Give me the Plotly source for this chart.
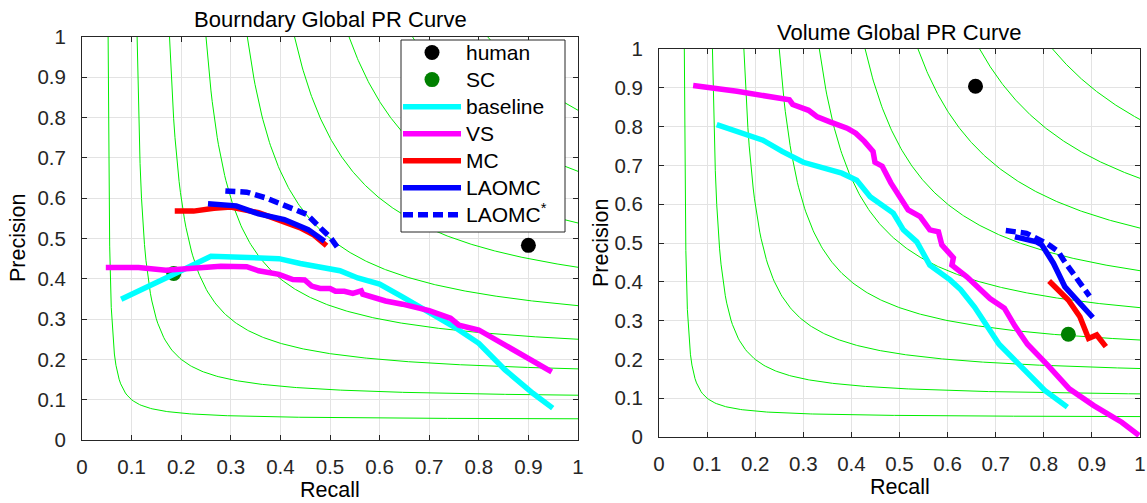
import plotly.graph_objects as go

# ---------------- data ----------------
F_LEVELS = [0.1, 0.2, 0.3, 0.4, 0.5, 0.6, 0.7, 0.8, 0.9]
SERIES_NAMES = ["human", "SC", "baseline", "VS", "MC", "LAOMC", "LAOMC<sup>*</sup>"]

# Boundary plot
b_human_r = [0.90]
b_human_p = [0.483]
b_sc_r = [0.185]
b_sc_p = [0.413]
b_base_r = [0.079, 0.135, 0.183, 0.26, 0.397, 0.44, 0.52, 0.556, 0.60, 0.646, 0.70, 0.75, 0.80, 0.853, 0.909, 0.949]
b_base_p = [0.349, 0.38, 0.41, 0.456, 0.45, 0.438, 0.42, 0.402, 0.387, 0.355, 0.318, 0.281, 0.24, 0.174, 0.116, 0.079]
b_vs_r = [0.048, 0.114, 0.169, 0.23, 0.28, 0.332, 0.356, 0.397, 0.425, 0.449, 0.463, 0.48, 0.50, 0.511, 0.529,
          0.546, 0.563, 0.566, 0.612, 0.646, 0.70, 0.743, 0.76, 0.80, 0.853, 0.895, 0.947]
b_vs_p = [0.428, 0.428, 0.421, 0.426, 0.431, 0.43, 0.42, 0.411, 0.398, 0.397, 0.382, 0.376, 0.376, 0.369, 0.369,
          0.364, 0.370, 0.362, 0.345, 0.337, 0.321, 0.302, 0.285, 0.273, 0.236, 0.207, 0.169]
b_mc_r = [0.187, 0.225, 0.266, 0.30, 0.356, 0.397, 0.439, 0.466, 0.493]
b_mc_p = [0.568, 0.568, 0.575, 0.578, 0.564, 0.547, 0.527, 0.510, 0.482]
b_la_r = [0.254, 0.311, 0.356, 0.408, 0.456, 0.489]
b_la_p = [0.586, 0.581, 0.561, 0.547, 0.522, 0.493]
b_las_r = [0.289, 0.332, 0.37, 0.425, 0.453, 0.48, 0.501, 0.518]
b_las_p = [0.618, 0.615, 0.601, 0.575, 0.56, 0.527, 0.502, 0.473]

# Volume plot
v_human_r = [0.658]
v_human_p = [0.904]
v_sc_r = [0.851]
v_sc_p = [0.265]
v_base_r = [0.12, 0.216, 0.256, 0.30, 0.38, 0.411, 0.439, 0.487, 0.508, 0.536, 0.563, 0.605, 0.627, 0.643,
            0.656, 0.707, 0.744, 0.802, 0.849]
v_base_p = [0.805, 0.765, 0.736, 0.708, 0.680, 0.662, 0.619, 0.577, 0.534, 0.503, 0.443, 0.405, 0.380, 0.357,
            0.335, 0.239, 0.192, 0.120, 0.077]
v_vs_r = [0.071, 0.162, 0.271, 0.278, 0.311, 0.329, 0.358, 0.391, 0.409, 0.427, 0.445, 0.449, 0.464, 0.482,
          0.518, 0.543, 0.563, 0.581, 0.588, 0.605, 0.612, 0.609, 0.640, 0.688, 0.718, 0.74, 0.766, 0.809,
          0.853, 0.904, 0.962, 0.998]
v_vs_p = [0.906, 0.891, 0.869, 0.857, 0.842, 0.825, 0.811, 0.796, 0.783, 0.762, 0.736, 0.708, 0.698, 0.655,
          0.585, 0.568, 0.534, 0.529, 0.495, 0.469, 0.462, 0.443, 0.413, 0.357, 0.332, 0.286, 0.239, 0.184,
          0.124, 0.081, 0.038, 0.004]
v_mc_r = [0.811, 0.851, 0.875, 0.893, 0.910, 0.929]
v_mc_p = [0.402, 0.353, 0.310, 0.254, 0.263, 0.233]
v_la_r = [0.740, 0.785, 0.796, 0.820, 0.844, 0.865, 0.902]
v_la_p = [0.516, 0.503, 0.495, 0.448, 0.387, 0.357, 0.308]
v_las_r = [0.721, 0.764, 0.806, 0.830, 0.841, 0.872, 0.895]
v_las_p = [0.532, 0.525, 0.499, 0.478, 0.456, 0.405, 0.363]

# ---------------- styling ----------------
FONT = "Liberation Sans, Arial, Helvetica, sans-serif"
TXT = "#262626"
W, H = 1147, 503
GREEN_ISO = "#00ee00"
LW = 5.5
LEG_TXT = 21  # visible legend text size (row spacing comes from legend.font.size)

fig = go.Figure()

# iso-F contours (F = 2PR/(P+R))
def iso_curve(f, n=300):
    r0 = f / (2 - f)
    rs = [r0 + (1 - r0) * i / (n - 1) for i in range(n)]
    ps = [f * r / (2 * r - f) for r in rs]
    return rs, ps

for xa, ya in [("x", "y"), ("x2", "y2")]:
    for f in F_LEVELS:
        rs, ps = iso_curve(f)
        fig.add_trace(go.Scatter(x=rs, y=ps, mode="lines", xaxis=xa, yaxis=ya,
                                 line=dict(color=GREEN_ISO, width=1), showlegend=False, hoverinfo="skip"))

def leg(name):
    return f'<span style="font-size:{LEG_TXT}px">{name}</span>'

def add_series(xa, ya, show):
    pref = {"x": "b", "x2": "v"}[xa]
    d = globals()
    keys = ["human", "sc", "base", "vs", "mc", "la", "las"]
    styles = [
        dict(mode="markers", marker=dict(color="black", size=15)),
        dict(mode="markers", marker=dict(color="#008000", size=15)),
        dict(mode="lines", line=dict(color="#00ffff", width=LW)),
        dict(mode="lines", line=dict(color="#ff00ff", width=LW)),
        dict(mode="lines", line=dict(color="#ff0000", width=LW)),
        dict(mode="lines", line=dict(color="#0000ff", width=LW)),
        dict(mode="lines", line=dict(color="#0000ff", width=LW, dash="10px,5px")),
    ]
    for k, nm, st in zip(keys, SERIES_NAMES, styles):
        fig.add_trace(go.Scatter(x=d[f"{pref}_{k}_r"], y=d[f"{pref}_{k}_p"], name=leg(nm),
                                 xaxis=xa, yaxis=ya, showlegend=show, legendgroup=k, **st))

add_series("x", "y", True)
add_series("x2", "y2", False)

ticks = [0, 0.1, 0.2, 0.3, 0.4, 0.5, 0.6, 0.7, 0.8, 0.9, 1]
tick_text = ["0", "0.1", "0.2", "0.3", "0.4", "0.5", "0.6", "0.7", "0.8", "0.9", "1"]

def axis_style(domain, anchor, standoff):
    return dict(domain=domain, anchor=anchor, range=[0, 1], tickmode="array", tickvals=ticks,
                ticktext=tick_text, showgrid=True, gridcolor="#e3e3e3", gridwidth=1, zeroline=False,
                showline=True, linecolor=TXT, linewidth=1, mirror="ticks", ticks="inside", ticklen=5,
                tickcolor=TXT, tickfont=dict(family=FONT, size=20.5, color=TXT),
                ticklabelstandoff=standoff, automargin=False)

# pixel-based domains
lx = [82 / W, 578 / W]
ly = [(H - 440) / H, (H - 37) / H]
rx = [659 / W, 1140 / W]
ry = [(H - 437) / H, (H - 49) / H]

fig.update_layout(
    template="none",
    width=W, height=H,
    margin=dict(l=0, r=0, t=0, b=0, autoexpand=False),
    paper_bgcolor="white", plot_bgcolor="white",
    xaxis=axis_style(lx, "y", 8),
    yaxis=axis_style(ly, "x", 11),
    xaxis2=axis_style(rx, "y2", 8),
    yaxis2=axis_style(ry, "x2", 11),
    showlegend=True,
    legend=dict(x=398 / W, y=(H - 34) / H, xanchor="left", yanchor="top",
                bgcolor="rgba(0,0,0,0)", borderwidth=0,
                font=dict(family=FONT, size=18.5, color="black"), itemwidth=58,
                tracegroupgap=0),
    font=dict(family=FONT, color=TXT),
)

# legend frame (white box with dark border, drawn above the curves; legend entries sit on top)
fig.add_shape(type="rect", xref="paper", yref="paper", x0=401 / W, x1=565 / W,
              y0=(H - 232) / H, y1=(H - 40) / H, layer="above",
              fillcolor="white", line=dict(color=TXT, width=1))

annots = [
    dict(text="Bourndary Global PR Curve", x=(82 + 578) / 2 / W, y=(H - 19) / H, size=22, angle=0),
    dict(text="Volume Global PR Curve", x=(659 + 1140) / 2 / W, y=(H - 32) / H, size=22, angle=0),
    dict(text="Recall", x=(82 + 578) / 2 / W, y=(H - 490) / H, size=21.5, angle=0),
    dict(text="Recall", x=(659 + 1140) / 2 / W, y=(H - 487) / H, size=21.5, angle=0),
    dict(text="Precision", x=18 / W, y=(H - 238) / H, size=21.5, angle=-90),
    dict(text="Precision", x=601 / W, y=(H - 243) / H, size=21.5, angle=-90),
]
for a in annots:
    fig.add_annotation(text=a["text"], x=a["x"], y=a["y"], xref="paper", yref="paper",
                       xanchor="center", yanchor="middle", showarrow=False, textangle=a["angle"],
                       font=dict(family=FONT, size=a["size"], color="black"))

fig.write_html("out.html")
